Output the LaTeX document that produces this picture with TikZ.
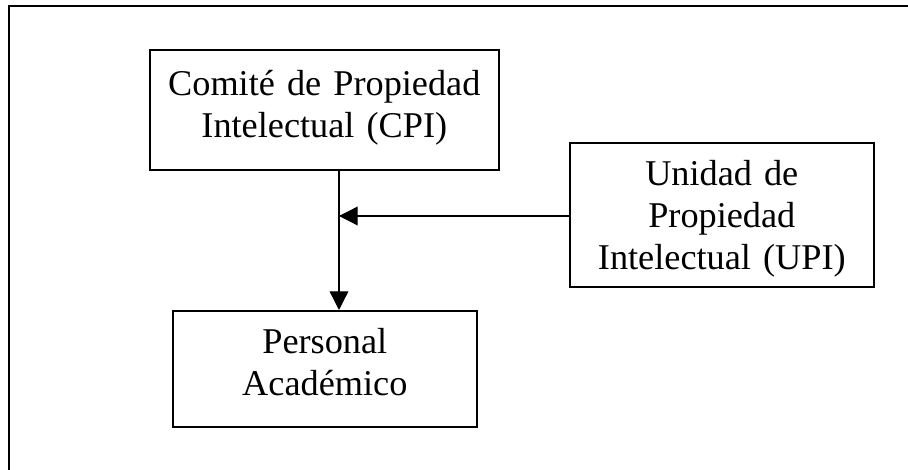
\documentclass[tikz,border=0pt]{standalone}
\usepackage{fontspec}
\setmainfont{Liberation Serif}
\usetikzlibrary{arrows.meta}

\begin{document}
\begin{tikzpicture}[
		x=0.75pt, y=-0.75pt,
		Box/.style = {rectangle, draw, line width=1.2pt,% boxes of the chart
			anchor=north west, inner sep=0pt, align=center,
			font=\fontsize{27.2}{31.5}\selectfont},
		Arr/.style = {line width=1pt,
			-{Triangle[length=14pt, width=14pt]}},
		]
		\clip (0,0) rectangle (908,470);
		\draw[line width=1.5pt] (9,6) rectangle (930,490);% frame, cut by the page
		\node (cpi) [Box, text width=261.75pt, text height=34.5pt, text depth=55.5pt]
			at (149,49) {Comité de Propiedad\\Intelectual (CPI)};
		\node (upi) [Box, text width=228pt, text height=32.25pt, text depth=75.75pt]
			at (569,142) {Unidad de\\Propiedad\\Intelectual (UPI)};
		\node (pa) [Box, text width=228pt, text height=32.25pt, text depth=54.75pt]
			at (172,310) {Personal\\Académico};
		\coordinate (join) at (339,216);
		\draw[Arr] (cpi.south -| join) -- (pa.north -| join);
		\draw[Arr] (upi.west |- join) -- (join);
		%\draw[Arr] (cpi) -- (pa);
	\end{tikzpicture}
\end{document}
